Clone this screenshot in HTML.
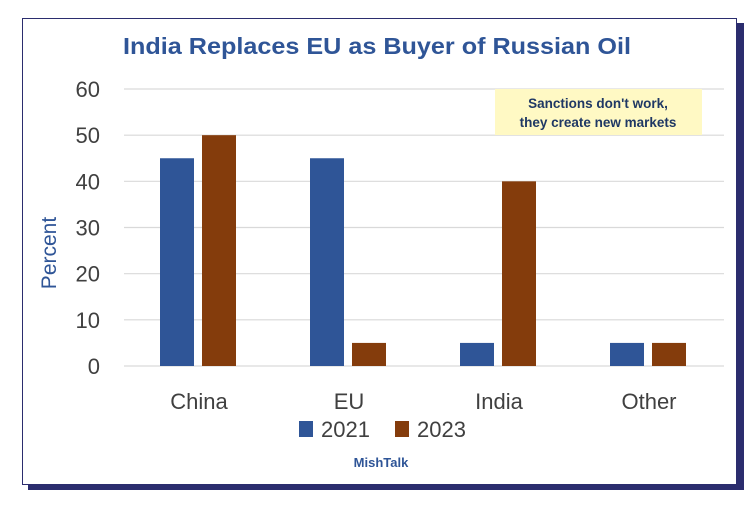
<!DOCTYPE html>
<html><head><meta charset="utf-8"><style>
html,body{margin:0;padding:0;background:#fff;width:744px;height:506px;overflow:hidden}
svg{display:block;font-family:"Liberation Sans",sans-serif}
</style></head><body>
<svg width="744" height="506">
<rect x="28" y="23" width="716" height="467" fill="#2b2d6e"/>
<rect x="22.5" y="18.5" width="714" height="466" fill="#fff" stroke="#2b2d6e"/>
<text x="377" y="54" text-anchor="middle" font-size="23" font-weight="bold" fill="#2f5597" textLength="508" lengthAdjust="spacingAndGlyphs">India Replaces EU as Buyer of Russian Oil</text>
<g id="grid"></g>
<rect x="495" y="89" width="207" height="46" fill="#fff9c4"/>
<text x="598" y="108" text-anchor="middle" font-size="13.5" font-weight="bold" fill="#1f3864">Sanctions don't work,</text>
<text x="598" y="127" text-anchor="middle" font-size="13.5" font-weight="bold" fill="#1f3864">they create new markets</text>
<g id="bars"></g>
<text transform="translate(56,253) rotate(-90)" text-anchor="middle" font-size="21" fill="#2f5597">Percent</text>
<rect x="299" y="421" width="14" height="16" fill="#2f5597"/>
<text x="321" y="437" font-size="22" fill="#404040">2021</text>
<rect x="395" y="421" width="14" height="16" fill="#843c0c"/>
<text x="417" y="437" font-size="22" fill="#404040">2023</text>
<text x="381" y="467" text-anchor="middle" font-size="13" font-weight="bold" fill="#2f5597">MishTalk</text>
</svg>
<script>
const categories = ["China","EU","India","Other"];
const series2021 = [45,45,5,5];
const series2023 = [50,5,40,5];
const yTicks = [0,10,20,30,40,50,60];
const NS="http://www.w3.org/2000/svg";
const x0=124,x1=724,yBase=366,yTop=89,yMax=60;
const y=v=>yBase-(v/yMax)*(yBase-yTop);
const band=(x1-x0)/categories.length;
const cx=i=>x0+band*(i+0.5);
const grid=document.getElementById('grid'),bars=document.getElementById('bars');
function mk(tag,attrs,parent){const e=document.createElementNS(NS,tag);for(const k in attrs)e.setAttribute(k,attrs[k]);parent.appendChild(e);return e;}
yTicks.forEach(t=>{
  const l=mk('line',{x1:x0,x2:x1,y1:y(t),y2:y(t),stroke:'#d9d9d9','stroke-width':1.2},grid);
  
  
  const tx=mk('text',{x:100,y:y(t)+8,'text-anchor':'end','font-size':22,fill:'#404040'},grid);
  tx.textContent=t;
  
  
});
categories.forEach((c,i)=>{
  const b1=mk('rect',{x:cx(i)-39,y:y(series2021[i]),width:34,height:yBase-y(series2021[i]),fill:'#2f5597'},bars);
  
  
  const b2=mk('rect',{x:cx(i)+3,y:y(series2023[i]),width:34,height:yBase-y(series2023[i]),fill:'#843c0c'},bars);
  
  
  const t=mk('text',{x:cx(i),y:409,'text-anchor':'middle','font-size':22,fill:'#404040'},bars);
  t.textContent=c;
  
  
});
</script>
</body></html>
